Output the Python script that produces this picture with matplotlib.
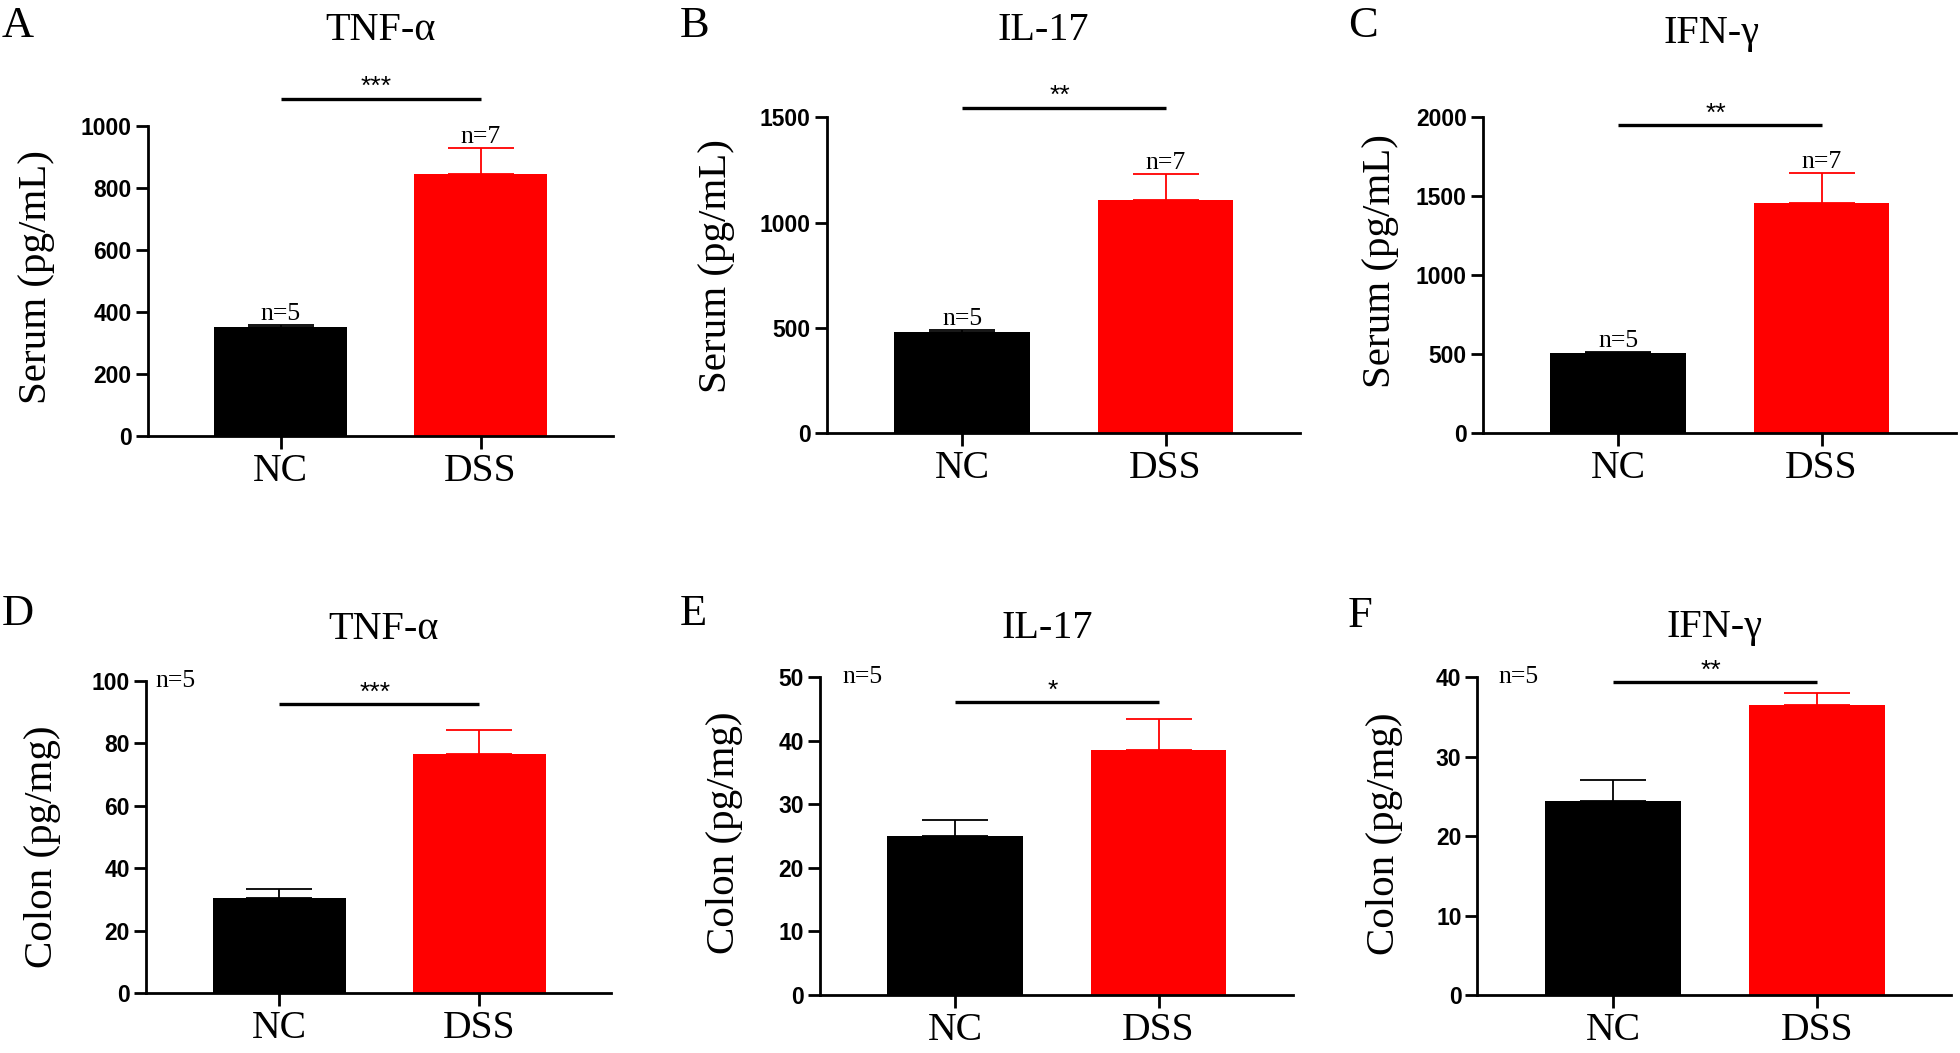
import matplotlib
matplotlib.use('Agg')
import matplotlib.pyplot as plt
import numpy as np

plt.rcParams['font.family'] = ['Liberation Serif', 'DejaVu Serif']

# ---------------- data ----------------
groups = ['NC', 'DSS']
cytokines = ['TNF-α', 'IL-17', 'IFN-γ', 'TNF-α', 'IL-17', 'IFN-γ']
panel_letters = ['A', 'B', 'C', 'D', 'E', 'F']
ylabels = ['Serum (pg/mL)'] * 3 + ['Colon (pg/mg)'] * 3

serum_mean = [[352, 846], [483, 1109], [506, 1460]]
serum_err = [[5, 84], [5, 124], [10, 186]]
colon_mean = [[30.4, 76.7], [25.1, 38.6], [24.4, 36.5]]
colon_err = [[3.0, 7.4], [2.5, 4.9], [2.7, 1.5]]
means = serum_mean + colon_mean
errs = serum_err + colon_err

ymax = [1000, 1500, 2000, 100, 50, 40]
ystep = [200, 500, 500, 20, 10, 10]
sig_stars = ['***', '**', '**', '***', '*', '**']
sig_y = [1088, 1546, 1951, 92.5, 46.1, 39.4]
serum_n = ['n=5', 'n=7']
colon_n = 'n=5'

# ---------------- layout (pixels) ----------------
W, H = 1960, 1053
cx = [280.5, 962, 1618, 279, 955, 1613]
sc = [200, 203.6, 203.6, 200, 203.5, 203.8]
top = [126, 117.3, 117.3, 680.7, 677.3, 677.3]
zero = [436, 433.3, 433.3, 993.3, 995, 995]
xl0, xl1 = -0.665, 1.66
title_x = [0.5, 0.40, 0.46, 0.52, 0.455, 0.50]
title_pad = [86, 77, 74, 42, 39, 40.6]
ylab_right = [55, 735, 1399, 61, 743, 1403]
ylab_cy = [277, 266, 261, 847, 833, 834]
letter_xy = [(2, 37), (680, 37), (1348, 37), (2, 625), (680, 625), (1348, 627)]
n5_x = [None, None, None, -0.62, -0.555, -0.564]

colors = ['#000000', '#ff0000']
px2pt = 0.72
sans = ['Liberation Sans', 'DejaVu Sans']

fig = plt.figure(figsize=(W / 100, H / 100), dpi=100)

for i in range(6):
    left = (cx[i] + xl0 * sc[i]) / W
    width = (xl1 - xl0) * sc[i] / W
    bottom = 1 - zero[i] / H
    height = (zero[i] - top[i]) / H
    ax = fig.add_axes([left, bottom, width, height])

    xs = np.arange(len(groups))
    ax.bar(xs, means[i], width=0.665, color=colors, zorder=2)
    for j in range(2):
        ax.errorbar(xs[j], means[i][j], yerr=[[0], [errs[i][j]]], fmt='none',
                    ecolor=colors[j], elinewidth=1.3, capsize=24, capthick=1.3,
                    zorder=3)

    ax.set_xlim(xl0, xl1)
    ax.set_ylim(0, ymax[i])
    yt = np.arange(0, ymax[i] + ystep[i] / 2, ystep[i])
    ax.set_yticks(yt, labels=[f'{int(v)}' for v in yt], fontweight='bold',
                  fontfamily=sans, fontsize=16.5)
    ax.set_xticks(xs, labels=groups, fontsize=28.5)

    for sp in ['top', 'right']:
        ax.spines[sp].set_visible(False)
    for sp in ['left', 'bottom']:
        ax.spines[sp].set_linewidth(2.0)
    ax.tick_params(axis='both', length=9, width=2.0, direction='out')
    ax.tick_params(axis='y', pad=2.5)
    ax.tick_params(axis='x', pad=3)

    # significance bar
    ax.plot([0, 1], [sig_y[i], sig_y[i]], color='black', lw=2.4,
            clip_on=False, solid_capstyle='butt')
    ax.annotate(sig_stars[i], xy=(0.48, sig_y[i]), xytext=(0, 8.4),
                textcoords='offset points', ha='center', va='center',
                fontsize=19, family=sans, annotation_clip=False)

    # n labels
    if i < 3:
        for j in range(2):
            ax.annotate(serum_n[j], xy=(xs[j], means[i][j] + errs[i][j]),
                        xytext=(0, 3.6), textcoords='offset points',
                        ha='center', va='baseline', fontsize=18.5,
                        annotation_clip=False)
    else:
        ax.text(n5_x[i], ymax[i], colon_n, ha='left', va='center',
                fontsize=18.5, clip_on=False)

    # title
    ax.annotate(cytokines[i], xy=(title_x[i], 1),
                xycoords=('data', 'axes fraction'),
                xytext=(0, title_pad[i] * px2pt), textcoords='offset points',
                ha='center', va='baseline', fontsize=29,
                annotation_clip=False)

    # y label
    fig.text(ylab_right[i] / W, 1 - ylab_cy[i] / H, ylabels[i],
             rotation=90, ha='right', va='center', fontsize=29.5)

    # panel letter
    lx, ly = letter_xy[i]
    fig.text(lx / W, 1 - ly / H, panel_letters[i], ha='left',
             va='baseline', fontsize=32)

fig.savefig('out.png', dpi=100)
